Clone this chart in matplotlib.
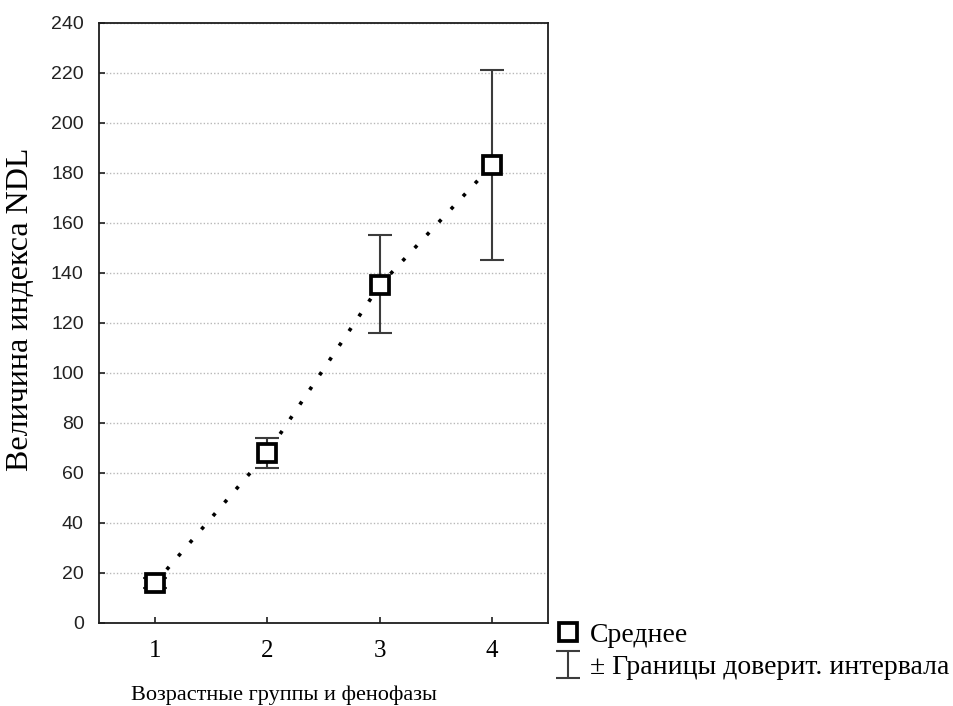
import matplotlib
matplotlib.use("Agg")
import matplotlib.pyplot as plt
import numpy as np

# ---------------------------------------------------------------------------
# Data
# ---------------------------------------------------------------------------
groups = [1, 2, 3, 4]
means = [16, 68, 135, 183]
ci_low = [14, 62, 116, 145]
ci_high = [18, 74, 155, 221]

yticks = list(range(0, 241, 20))
xlabel = "Возрастные группы и фенофазы"
ylabel = "Величина индекса NDL"
legend_mean = "Среднее"
legend_ci = "± Границы доверит. интервала"

SERIF = "Liberation Serif"
SANS = "Liberation Sans"
EDGE = "#1e1e1e"
ERR = "#3c3c3c"

fig = plt.figure(figsize=(9.54, 7.06), dpi=100)
ax = fig.add_axes([0.1038, 0.1176, 0.4706, 0.8499])

means_a = np.array(means)
yerr = [means_a - np.array(ci_low), np.array(ci_high) - means_a]

ax.grid(axis="y", color="#b8b8b8", linestyle=(0, (1, 1.5)), linewidth=1.0)
ax.set_axisbelow(True)

# dotted line through the means
ax.plot(groups, means, color="black", linewidth=2.6,
        linestyle=(0, (1, 3.9)), dash_capstyle="butt", zorder=2)

ci = ax.errorbar(groups, means, yerr=yerr, fmt="none", ecolor=ERR,
                 elinewidth=1.5, capsize=8.3, capthick=1.5, zorder=3)
mk, = ax.plot(groups, means, "s", markersize=12.5, markerfacecolor="white",
              markeredgecolor="black", markeredgewidth=2.7, linestyle="none",
              zorder=4)

ax.set_xlim(0.5, 4.5)
ax.set_ylim(0, 240)
ax.set_xticks(groups)
ax.set_yticks(yticks)
ax.tick_params(axis="both", direction="in", length=4, width=1.2, color=EDGE)
ax.tick_params(axis="x", pad=12)
ax.tick_params(axis="y", pad=11)
for lab in ax.get_xticklabels():
    lab.set_fontfamily(SERIF)
    lab.set_fontsize(18)
for lab in ax.get_yticklabels():
    lab.set_fontfamily(SANS)
    lab.set_fontsize(14)
    lab.set_color("#222222")
for sp in ax.spines.values():
    sp.set_linewidth(1.3)
    sp.set_color(EDGE)

ax.set_xlabel(xlabel, fontfamily=SERIF, fontsize=16)
ax.xaxis.set_label_coords(0.412, -0.105)
ax.set_ylabel(ylabel, fontfamily=SERIF, fontsize=23)
ax.yaxis.set_label_coords(-0.143, 0.522)

leg = ax.legend([mk, ci], [legend_mean, legend_ci], loc="upper left",
                bbox_to_anchor=(0.566, 0.138), bbox_transform=fig.transFigure,
                frameon=False, handlelength=1.0, handletextpad=0.3,
                labelspacing=0.25, borderpad=0.0,
                prop={"family": SERIF, "size": 20})

fig.savefig("out.png", dpi=100)
